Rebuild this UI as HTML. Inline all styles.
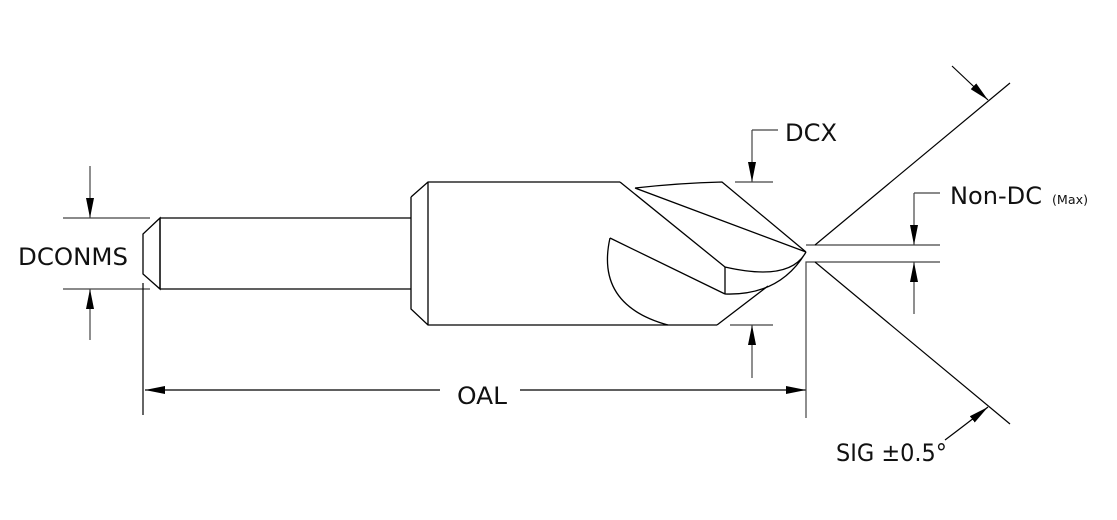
<!DOCTYPE html>
<html><head><style>body{margin:0;background:#fff}svg{display:block}text{font-family:"DejaVu Sans","Liberation Sans",sans-serif;fill:#111}</style></head><body>
<svg width="1117" height="520" viewBox="0 0 1117 520">
<defs>
<marker id="b" viewBox="0 0 20 8" refX="20" refY="4" markerWidth="20" markerHeight="8" markerUnits="userSpaceOnUse" orient="auto"><path d="M0,0 L20,4 L0,8z" fill="#000"/></marker>
</defs>
<g fill="none" stroke="#000" stroke-width="1.3">
<path d="M160,218 L411,218 M160,289 L411,289 M160,218 L143,234 L143,274 L160,289 Z"/>
<line x1="160" y1="218" x2="160" y2="289"/>
<path d="M411,197 L428,182 L620,182 M411,197 L411,309 L428,325 L717,325 M428,182 L428,325"/>
<path d="M620,182 L725,267 M635,188 Q680,183 722,182 L806,252 M635,188 L806,252"/>
<path d="M725,267 Q790,282 806,252 M725,294 Q780,296 806,252 M610,238 L725,294 M725,267 L725,294"/>
<path d="M610,238 Q595,305 668,325 M717,325 L768,286"/>
</g>
<g fill="none" stroke="#444" stroke-width="1.2">
<path d="M63,218 H150 M63,289 H150"/>
<line x1="90" y1="166" x2="90" y2="218" marker-end="url(#b)"/>
<line x1="90" y1="340" x2="90" y2="289" marker-end="url(#b)"/>
<line x1="143" y1="283" x2="143" y2="415" stroke="#000"/>
<line x1="440" y1="390" x2="145" y2="390" marker-end="url(#b)" stroke="#000"/>
<line x1="520" y1="390" x2="806" y2="390" marker-end="url(#b)" stroke="#000"/>
<path d="M806,418 V262 H940 M806,245 H940"/>
<path d="M940,193 H914"/>
<line x1="914" y1="193" x2="914" y2="245" marker-end="url(#b)"/>
<line x1="914" y1="314" x2="914" y2="262" marker-end="url(#b)"/>
<path d="M735,182 H773 M730,325 H773 M778,130 H752"/>
<line x1="752" y1="130" x2="752" y2="182" marker-end="url(#b)"/>
<line x1="752" y1="378" x2="752" y2="325" marker-end="url(#b)"/>
</g>
<g fill="none" stroke="#000" stroke-width="1.2">
<line x1="815" y1="245" x2="1010" y2="83"/>
<line x1="815" y1="262" x2="1010" y2="424"/>
<line x1="952" y1="66" x2="988" y2="100" marker-end="url(#b)"/>
<path d="M945,440 Q965,425 988,407" marker-end="url(#b)"/>
</g>
<text x="18" y="265" font-size="24" textLength="110" lengthAdjust="spacingAndGlyphs">DCONMS</text>
<text x="457" y="404" font-size="24" textLength="50" lengthAdjust="spacingAndGlyphs">OAL</text>
<text x="785" y="141" font-size="24" textLength="52" lengthAdjust="spacingAndGlyphs">DCX</text>
<text x="950" y="204" font-size="24" textLength="92" lengthAdjust="spacingAndGlyphs">Non-DC</text>
<text x="1052" y="204" font-size="12" textLength="36" lengthAdjust="spacingAndGlyphs">(Max)</text>
<text x="836" y="461" font-size="24" textLength="111" lengthAdjust="spacingAndGlyphs">SIG ±0.5°</text>
</svg>
</body></html>
